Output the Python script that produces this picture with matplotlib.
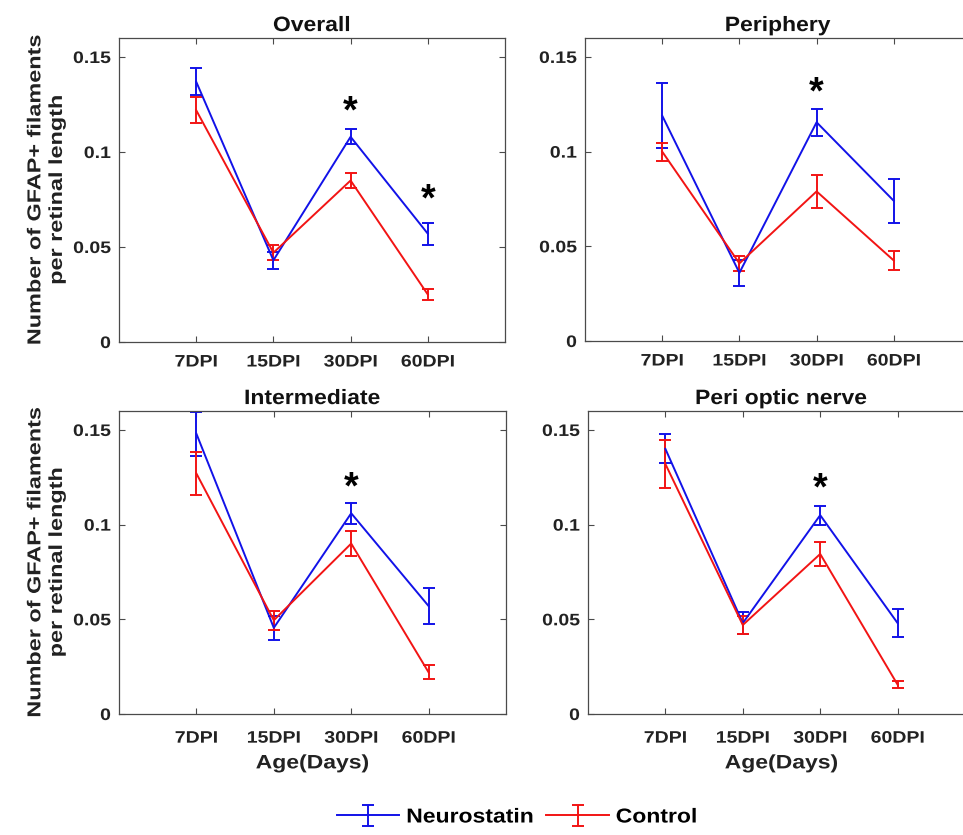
import matplotlib
matplotlib.use("Agg")
import matplotlib.pyplot as plt
from matplotlib.patheffects import AbstractPathEffect
from matplotlib.transforms import Affine2D

plt.rcParams['font.family'] = ['Liberation Sans', 'DejaVu Sans']
plt.rcParams['font.weight'] = 'bold'

days = ["7DPI", "15DPI", "30DPI", "60DPI"]
regions = ["Overall", "Periphery", "Intermediate", "Peri optic nerve"]

# mean and SEM per region (Neurostatin)
neuro_overall = [0.137, 0.043, 0.108, 0.057]
neuro_overall_err = [0.007, 0.0045, 0.004, 0.0057]
neuro_periphery = [0.119, 0.036, 0.1155, 0.074]
neuro_periphery_err = [0.017, 0.007, 0.007, 0.0117]
neuro_intermediate = [0.148, 0.0455, 0.106, 0.057]
neuro_intermediate_err = [0.0116, 0.0065, 0.0055, 0.0095]
neuro_optic = [0.140, 0.048, 0.105, 0.048]
neuro_optic_err = [0.0076, 0.006, 0.005, 0.0075]

# mean and SEM per region (Control)
ctrl_overall = [0.122, 0.047, 0.085, 0.025]
ctrl_overall_err = [0.007, 0.004, 0.004, 0.003]
ctrl_periphery = [0.100, 0.041, 0.079, 0.0425]
ctrl_periphery_err = [0.0047, 0.004, 0.0087, 0.005]
ctrl_intermediate = [0.127, 0.0495, 0.090, 0.022]
ctrl_intermediate_err = [0.0115, 0.005, 0.0066, 0.0037]
ctrl_optic = [0.132, 0.047, 0.0845, 0.0155]
ctrl_optic_err = [0.0125, 0.0045, 0.0065, 0.002]

# significance markers: (day index, y position of the star)
sig_overall = [(2, 0.1265), (3, 0.0805)]
sig_periphery = [(2, 0.1365)]
sig_intermediate = [(2, 0.125)]
sig_optic = [(2, 0.1245)]

panels = [
    (neuro_overall, neuro_overall_err, ctrl_overall, ctrl_overall_err, sig_overall),
    (neuro_periphery, neuro_periphery_err, ctrl_periphery, ctrl_periphery_err, sig_periphery),
    (neuro_intermediate, neuro_intermediate_err, ctrl_intermediate, ctrl_intermediate_err, sig_intermediate),
    (neuro_optic, neuro_optic_err, ctrl_optic, ctrl_optic_err, sig_optic),
]


class Widen(AbstractPathEffect):
    """Draw text slightly wider along its own baseline, keeping its anchor fixed."""

    def __init__(self, sx, anchor='center'):
        super().__init__()
        self.sx = sx
        self.anchor = anchor

    def draw_path(self, renderer, gc, tpath, affine, rgbFace=None):
        ext = tpath.get_extents()
        if self.anchor == 'center':
            cx = 0.5 * (ext.x0 + ext.x1)
        elif self.anchor == 'right':
            cx = ext.x1
        else:
            cx = ext.x0
        pre = Affine2D().translate(-cx, 0).scale(self.sx, 1.0).translate(cx, 0)
        renderer.draw_path(gc, tpath, pre + affine, rgbFace)


W, H = 963, 835
fig = plt.figure(figsize=(W / 100, H / 100), dpi=100)

# axes boxes in pixels: left, top, right, bottom
boxes = [
    (119, 38, 505, 342),
    (585, 38, 971, 341),
    (119, 411, 506, 714),
    (588, 411, 975, 714),
]

BLUE = '#1212e8'
RED = '#f21414'
SPINE = '#4a4a4a'
TXT = '#222222'
x = [1, 2, 3, 4]
handles = []
for i, (box, region, (ny, ne, cy, ce, sig)) in enumerate(zip(boxes, regions, panels)):
    l, t, r, b = box
    ax = fig.add_axes([l / W, 1 - b / H, (r - l) / W, (b - t) / H])
    eb = dict(lw=1.4, capsize=4.2, capthick=1.4, elinewidth=1.4)
    hn = ax.errorbar(x, ny, yerr=ne, color=BLUE, label="Neurostatin", **eb)
    hc = ax.errorbar(x, cy, yerr=ce, color=RED, label="Control", **eb)
    if i == 0:
        handles = [hn, hc]
    for (k, ys) in sig:
        ax.annotate("*", xy=(x[k], ys), xytext=(0, -0.56 * 27), textcoords='offset points',
                    ha='center', va='baseline', fontsize=27, fontweight='bold',
                    color='black')
    ax.set_xlim(0, 5)
    ax.set_ylim(0, 0.16)
    ax.set_xticks(x)
    ax.set_xticklabels(days)
    ax.set_yticks([0, 0.05, 0.1, 0.15])
    ax.set_yticklabels(["0", "0.05", "0.1", "0.15"])
    ax.tick_params(direction='in', top=True, right=True, length=4, width=0.8,
                   colors=SPINE, labelcolor=TXT, labelsize=12)
    ax.tick_params(axis='y', pad=6)
    ax.tick_params(axis='x', pad=9 if i < 2 else 12)
    for tk in ax.xaxis.get_major_ticks():
        tk.tick2line.set_color('#b0b0b0')
    for lab in ax.get_xticklabels():
        lab.set_fontweight('bold')
        lab.set_path_effects([Widen(1.17, 'center')])
    for lab in ax.get_yticklabels():
        lab.set_fontweight('bold')
        lab.set_path_effects([Widen(1.17, 'right')])
    for s in ax.spines.values():
        s.set_color(SPINE)
        s.set_linewidth(0.9)
    ttl = ax.set_title(region, fontsize=15, fontweight='bold', color='#111111', pad=5)
    ttl.set_path_effects([Widen(1.1, 'center')])
    if i % 2 == 0:
        yl = ax.set_ylabel("Number of GFAP+ filaments\nper retinal length", fontsize=13.5,
                           fontweight='bold', color=TXT, labelpad=9, linespacing=1.35)
        yl.set_path_effects([Widen(1.25, 'center')])
    if i >= 2:
        xl = ax.set_xlabel("Age(Days)", fontsize=14, fontweight='bold', color=TXT,
                           labelpad=7)
        xl.set_path_effects([Widen(1.18, 'center')])

leg = fig.legend(handles=handles, labels=["Neurostatin", "Control"], loc='center',
                 bbox_to_anchor=(512 / W, 1 - 817 / H), ncol=2, frameon=False,
                 fontsize=14.5, handlelength=3.1, columnspacing=1.4, handletextpad=0.35)
for txt in leg.get_texts():
    txt.set_path_effects([Widen(1.14, 'left')])

fig.savefig("out.png", dpi=100, facecolor='white')
